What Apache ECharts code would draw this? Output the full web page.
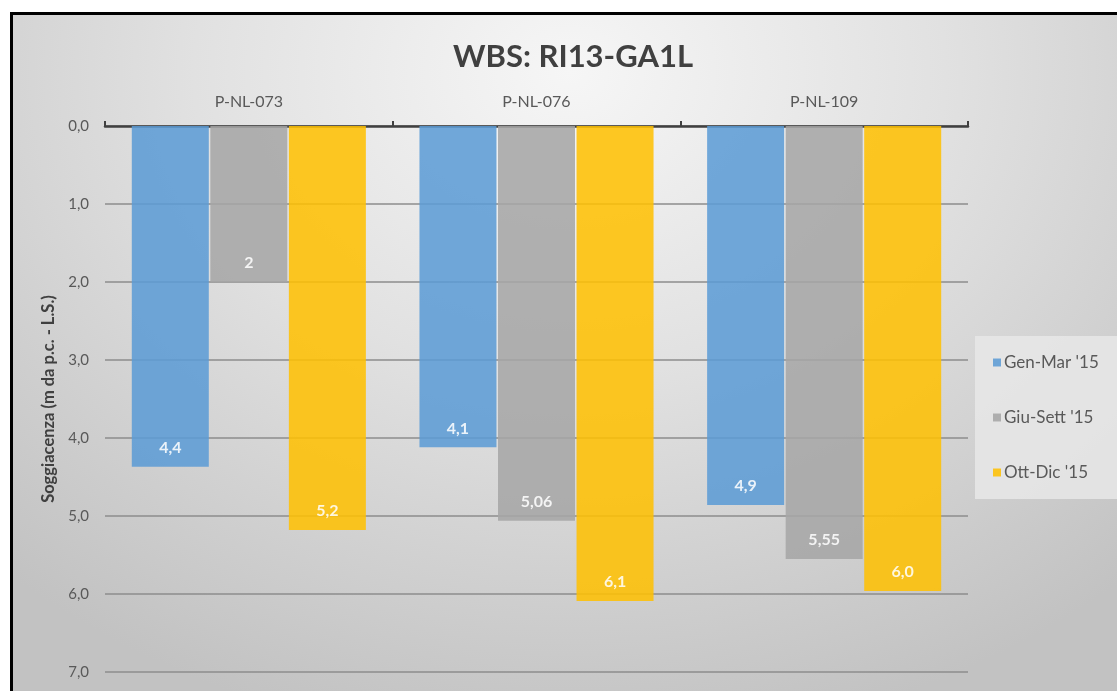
<!DOCTYPE html>
<html>
<head>
<meta charset="utf-8">
<script src="https://cdn.jsdelivr.net/npm/echarts@6/dist/echarts.min.js"></script>
<style>
  html, body { margin: 0; padding: 0; width: 1117px; height: 691px; overflow: hidden; background: #ffffff; }
  #frame {
    position: absolute; left: 10px; top: 12px; width: 1120px; height: 720px;
    border: 3px solid #000000; box-sizing: border-box;
    background: radial-gradient(ellipse 75% 95% at 50% 8%, #f6f6f6 0%, #e1e1e1 45%, #d0d0d0 75%, #c2c2c2 100%);
  }
  #chart { position: absolute; left: 0; top: 0; width: 1117px; height: 691px; }
</style>
</head>
<body>
<div id="frame"></div>
<div id="chart"></div>
<script>
// Piezometers of the WBS section and the measuring periods
const categories = ['P-NL-073', 'P-NL-076', 'P-NL-109'];
const seriesNames = ["Gen-Mar '15", "Giu-Sett '15", "Ott-Dic '15"];

// Depth to groundwater (m below ground level)
const genMar = [4.37, 4.12, 4.86];
const giuSett = [2, 5.06, 5.55];
const ottDic = [5.18, 6.09, 5.96];

// Depth axis ticks
const yTicks = [0, 1, 2, 3, 4, 5, 6, 7];

const FONT = 'Lato, "Liberation Sans", sans-serif';
const colors = ['#5b9bd5', '#a5a5a5', '#ffc000'];

const comma = s => String(s).replace('.', ',');
const fixed1 = v => comma((Math.round(v * 10) / 10).toFixed(1));
const general = v => comma(String(v));

function barSeries(name, data, color, fmt) {
  return {
    name: name,
    type: 'bar',
    data: data,
    barWidth: 77,
    barGap: '2%',
    itemStyle: { color: color, opacity: 0.86 },
    label: {
      show: true,
      position: 'insideBottom',
      distance: 11,
      color: '#ffffff',
      fontFamily: FONT,
      fontWeight: 'bold',
      fontSize: 16,
      formatter: p => fmt(p.value)
    }
  };
}

const chart = echarts.init(document.getElementById('chart'), null, { renderer: 'canvas' });
chart.setOption({
  backgroundColor: 'transparent',
  animation: false,
  color: colors,
  title: {
    text: 'WBS: RI13-GA1L',
    left: 568,
    top: 36,
    textAlign: 'center',
    textStyle: { fontFamily: FONT, fontWeight: 'bold', fontSize: 31, color: '#404040' }
  },
  legend: {
    orient: 'vertical',
    left: 975,
    top: 336,
    padding: [18, 24, 18, 18],
    itemGap: 38,
    itemWidth: 8,
    itemHeight: 8,
    icon: 'rect',
    backgroundColor: 'rgba(232,232,232,0.85)',
    data: seriesNames,
    textStyle: { fontFamily: FONT, fontSize: 17, color: '#595959', padding: [0, 0, 0, -2] }
  },
  grid: { left: 105, right: 149, top: 126, bottom: 19, containLabel: false },
  xAxis: {
    type: 'category',
    position: 'top',
    data: categories,
    axisLine: { lineStyle: { color: '#404040', width: 2.5 } },
    axisTick: { show: true, length: 5, lineStyle: { color: '#404040', width: 2 } },
    axisLabel: { fontFamily: FONT, fontSize: 16, color: '#595959', margin: 16 }
  },
  yAxis: {
    type: 'value',
    inverse: true,
    min: yTicks[0],
    max: yTicks[yTicks.length - 1],
    interval: 1,
    name: 'Soggiacenza (m da p.c. - L.S.)',
    nameLocation: 'middle',
    nameGap: 48,
    nameTextStyle: { fontFamily: FONT, fontSize: 16.5, color: '#404040', fontWeight: 'bold' },
    axisLine: { show: false },
    axisTick: { show: false },
    splitLine: { lineStyle: { color: '#8c8c8c', width: 1.5 } },
    axisLabel: { fontFamily: FONT, fontSize: 15, color: '#595959', margin: 16, formatter: v => fixed1(v) }
  },
  series: [
    barSeries(seriesNames[0], genMar, colors[0], fixed1),
    barSeries(seriesNames[1], giuSett, colors[1], general),
    barSeries(seriesNames[2], ottDic, colors[2], fixed1)
  ]
});
</script>
</body>
</html>
